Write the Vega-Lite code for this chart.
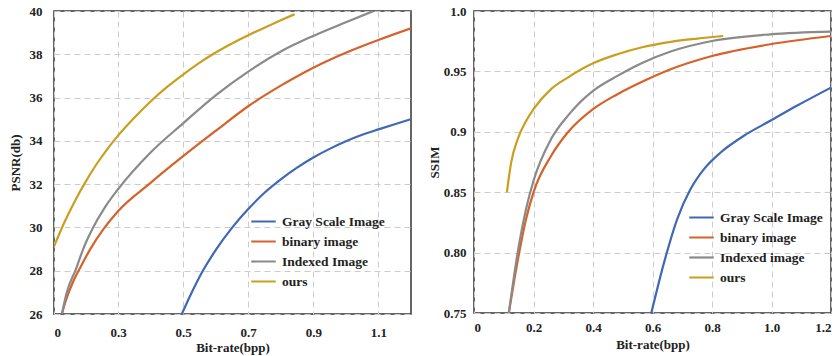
{
  "$schema": "https://vega.github.io/schema/vega-lite/v6.json",
  "background": "white",
  "padding": {"left": 8, "top": 4, "right": 0, "bottom": 0},
  "config": {
    "font": "Liberation Serif",
    "view": {"stroke": "#333333", "strokeWidth": 1.5},
    "axis": {
      "labelFont": "Liberation Serif", "labelFontWeight": "bold", "labelFontSize": 13, "labelColor": "#222222",
      "titleFont": "Liberation Serif", "titleFontWeight": "bold", "titleFontSize": 13, "titleColor": "#222222",
      "ticks": false, "domain": false, "gridDash": [6, 4], "gridColor": "#cccccc", "gridWidth": 1
    },
    "legend": {
      "orient": "none", "symbolType": "stroke", "symbolSize": 600, "symbolStrokeWidth": 3,
      "labelFont": "Liberation Serif", "labelFontWeight": "bold", "labelFontSize": 13.5, "labelColor": "#222222",
      "clipHeight": 19, "rowPadding": 1, "labelOffset": 5
    },
    "line": {"strokeWidth": 2.2, "interpolate": "monotone"}
  },
  "datasets": {
    "psnr": [
      {"series": "Gray Scale Image", "x": 0.496, "y": 26.0},
      {"series": "Gray Scale Image", "x": 0.525, "y": 26.95},
      {"series": "Gray Scale Image", "x": 0.559, "y": 27.95},
      {"series": "Gray Scale Image", "x": 0.6, "y": 28.95},
      {"series": "Gray Scale Image", "x": 0.65, "y": 29.98},
      {"series": "Gray Scale Image", "x": 0.7, "y": 30.85},
      {"series": "Gray Scale Image", "x": 0.75, "y": 31.6},
      {"series": "Gray Scale Image", "x": 0.8, "y": 32.22},
      {"series": "Gray Scale Image", "x": 0.85, "y": 32.76},
      {"series": "Gray Scale Image", "x": 0.9, "y": 33.23},
      {"series": "Gray Scale Image", "x": 0.95, "y": 33.63},
      {"series": "Gray Scale Image", "x": 1.0, "y": 33.98},
      {"series": "Gray Scale Image", "x": 1.05, "y": 34.28},
      {"series": "Gray Scale Image", "x": 1.1, "y": 34.53},
      {"series": "Gray Scale Image", "x": 1.15, "y": 34.77},
      {"series": "Gray Scale Image", "x": 1.2, "y": 35.0},
      {"series": "binary image", "x": 0.037, "y": 26.0},
      {"series": "binary image", "x": 0.06, "y": 26.75},
      {"series": "binary image", "x": 0.09, "y": 27.5},
      {"series": "binary image", "x": 0.126, "y": 28.2},
      {"series": "binary image", "x": 0.17, "y": 29.0},
      {"series": "binary image", "x": 0.23, "y": 29.9},
      {"series": "binary image", "x": 0.3, "y": 30.75},
      {"series": "binary image", "x": 0.4, "y": 32.06},
      {"series": "binary image", "x": 0.5, "y": 33.29},
      {"series": "binary image", "x": 0.6, "y": 34.46},
      {"series": "binary image", "x": 0.7, "y": 35.6},
      {"series": "binary image", "x": 0.8, "y": 36.55},
      {"series": "binary image", "x": 0.9, "y": 37.38},
      {"series": "binary image", "x": 1.0, "y": 38.07},
      {"series": "binary image", "x": 1.1, "y": 38.66},
      {"series": "binary image", "x": 1.2, "y": 39.2},
      {"series": "Indexed Image", "x": 0.037, "y": 26.0},
      {"series": "Indexed Image", "x": 0.06, "y": 27.0},
      {"series": "Indexed Image", "x": 0.102, "y": 28.05},
      {"series": "Indexed Image", "x": 0.14, "y": 29.08},
      {"series": "Indexed Image", "x": 0.181, "y": 29.95},
      {"series": "Indexed Image", "x": 0.24, "y": 30.95},
      {"series": "Indexed Image", "x": 0.3, "y": 31.76},
      {"series": "Indexed Image", "x": 0.4, "y": 33.46},
      {"series": "Indexed Image", "x": 0.5, "y": 34.81},
      {"series": "Indexed Image", "x": 0.6, "y": 36.1},
      {"series": "Indexed Image", "x": 0.7, "y": 37.2},
      {"series": "Indexed Image", "x": 0.8, "y": 38.13},
      {"series": "Indexed Image", "x": 0.9, "y": 38.85},
      {"series": "Indexed Image", "x": 1.0, "y": 39.48},
      {"series": "Indexed Image", "x": 1.085, "y": 40.0},
      {"series": "ours", "x": 0.0, "y": 29.12},
      {"series": "ours", "x": 0.05, "y": 30.26},
      {"series": "ours", "x": 0.1, "y": 31.26},
      {"series": "ours", "x": 0.15, "y": 32.14},
      {"series": "ours", "x": 0.2, "y": 32.93},
      {"series": "ours", "x": 0.25, "y": 33.62},
      {"series": "ours", "x": 0.3, "y": 34.24},
      {"series": "ours", "x": 0.35, "y": 35.07},
      {"series": "ours", "x": 0.4, "y": 35.82},
      {"series": "ours", "x": 0.45, "y": 36.48},
      {"series": "ours", "x": 0.5, "y": 37.06},
      {"series": "ours", "x": 0.55, "y": 37.6},
      {"series": "ours", "x": 0.6, "y": 38.08},
      {"series": "ours", "x": 0.65, "y": 38.5},
      {"series": "ours", "x": 0.7, "y": 38.88},
      {"series": "ours", "x": 0.75, "y": 39.23},
      {"series": "ours", "x": 0.8, "y": 39.57},
      {"series": "ours", "x": 0.8425, "y": 39.85}
    ],
    "ssim": [
      {"series": "Gray Scale Image", "x": 0.596, "y": 0.75},
      {"series": "Gray Scale Image", "x": 0.639, "y": 0.7919},
      {"series": "Gray Scale Image", "x": 0.683, "y": 0.8278},
      {"series": "Gray Scale Image", "x": 0.728, "y": 0.8526},
      {"series": "Gray Scale Image", "x": 0.773, "y": 0.8691},
      {"series": "Gray Scale Image", "x": 0.829, "y": 0.8829},
      {"series": "Gray Scale Image", "x": 0.907, "y": 0.8967},
      {"series": "Gray Scale Image", "x": 0.996, "y": 0.9091},
      {"series": "Gray Scale Image", "x": 1.085, "y": 0.9215},
      {"series": "Gray Scale Image", "x": 1.2, "y": 0.9366},
      {"series": "binary image", "x": 0.117, "y": 0.75},
      {"series": "binary image", "x": 0.147, "y": 0.7935},
      {"series": "binary image", "x": 0.175, "y": 0.8278},
      {"series": "binary image", "x": 0.2, "y": 0.8499},
      {"series": "binary image", "x": 0.259, "y": 0.88},
      {"series": "binary image", "x": 0.315, "y": 0.8994},
      {"series": "binary image", "x": 0.4, "y": 0.9187},
      {"series": "binary image", "x": 0.482, "y": 0.9311},
      {"series": "binary image", "x": 0.583, "y": 0.9435},
      {"series": "binary image", "x": 0.661, "y": 0.9518},
      {"series": "binary image", "x": 0.8, "y": 0.9628},
      {"series": "binary image", "x": 0.996, "y": 0.9725},
      {"series": "binary image", "x": 1.2, "y": 0.9793},
      {"series": "Indexed image", "x": 0.117, "y": 0.75},
      {"series": "Indexed image", "x": 0.147, "y": 0.8003},
      {"series": "Indexed image", "x": 0.175, "y": 0.836},
      {"series": "Indexed image", "x": 0.2, "y": 0.8595},
      {"series": "Indexed image", "x": 0.259, "y": 0.894},
      {"series": "Indexed image", "x": 0.315, "y": 0.9132},
      {"series": "Indexed image", "x": 0.4, "y": 0.9339},
      {"series": "Indexed image", "x": 0.482, "y": 0.9463},
      {"series": "Indexed image", "x": 0.565, "y": 0.957},
      {"series": "Indexed image", "x": 0.661, "y": 0.9665},
      {"series": "Indexed image", "x": 0.8, "y": 0.9752},
      {"series": "Indexed image", "x": 0.996, "y": 0.9807},
      {"series": "Indexed image", "x": 1.2, "y": 0.9829},
      {"series": "ours", "x": 0.1105, "y": 0.8499},
      {"series": "ours", "x": 0.125, "y": 0.8747},
      {"series": "ours", "x": 0.147, "y": 0.894},
      {"series": "ours", "x": 0.175, "y": 0.909},
      {"series": "ours", "x": 0.2, "y": 0.9187},
      {"series": "ours", "x": 0.259, "y": 0.9353},
      {"series": "ours", "x": 0.315, "y": 0.9449},
      {"series": "ours", "x": 0.4, "y": 0.9567},
      {"series": "ours", "x": 0.482, "y": 0.9642},
      {"series": "ours", "x": 0.565, "y": 0.97},
      {"series": "ours", "x": 0.661, "y": 0.9745},
      {"series": "ours", "x": 0.75, "y": 0.9772},
      {"series": "ours", "x": 0.8375, "y": 0.9793}
    ]
  },
  "spacing": 15,
  "hconcat": [
    {
      "width": 357,
      "height": 303,
      "data": {"name": "psnr"},
      "mark": {"type": "line", "clip": true},
      "encoding": {
        "x": {
          "field": "x", "type": "quantitative",
          "scale": {"domain": [0, 0.3, 1.2], "range": [0, 64, 357], "nice": false, "zero": false},
          "axis": {"title": "Bit-rate(bpp)", "values": [0, 0.3, 0.5, 0.7, 0.9, 1.1], "format": ".1~f", "labelPadding": 12, "titlePadding": 2}
        },
        "y": {
          "field": "y", "type": "quantitative",
          "scale": {"domain": [26, 40], "nice": false, "zero": false},
          "axis": {"title": "PSNR(db)", "values": [26, 28, 30, 32, 34, 36, 38, 40], "labelPadding": 12, "titlePadding": 7}
        },
        "color": {
          "field": "series", "type": "nominal",
          "scale": {"domain": ["Gray Scale Image", "binary image", "Indexed Image", "ours"], "range": ["#4068b5", "#d6612a", "#8a8a8a", "#c99f1f"]},
          "legend": {"title": null, "legendX": 196, "legendY": 201}
        }
      }
    },
    {
      "width": 357,
      "height": 302,
      "data": {"name": "ssim"},
      "mark": {"type": "line", "clip": true},
      "encoding": {
        "x": {
          "field": "x", "type": "quantitative",
          "scale": {"domain": [0, 1.2], "nice": false, "zero": false},
          "axis": {"title": "Bit-rate(bpp)", "values": [0, 0.2, 0.4, 0.6, 0.8, 1.0, 1.2], "labelExpr": "datum.value == 0 ? '0' : format(datum.value, '.1f')", "labelPadding": 8, "titlePadding": 4}
        },
        "y": {
          "field": "y", "type": "quantitative",
          "scale": {"domain": [0.75, 1.0], "nice": false, "zero": false},
          "axis": {"title": "SSIM", "values": [0.75, 0.8, 0.85, 0.9, 0.95, 1.0], "labelExpr": "datum.value > 0.999 ? '1.0' : (datum.value > 0.899 && datum.value < 0.901 ? '0.9' : format(datum.value, '.2f'))", "labelPadding": 8, "titlePadding": 2}
        },
        "color": {
          "field": "series", "type": "nominal",
          "scale": {"domain": ["Gray Scale Image", "binary image", "Indexed image", "ours"], "range": ["#4068b5", "#d6612a", "#8a8a8a", "#c99f1f"]},
          "legend": {"title": null, "legendX": 214, "legendY": 197}
        }
      }
    }
  ],
  "resolve": {"scale": {"color": "independent", "x": "independent", "y": "independent"}, "legend": {"color": "independent"}}
}
